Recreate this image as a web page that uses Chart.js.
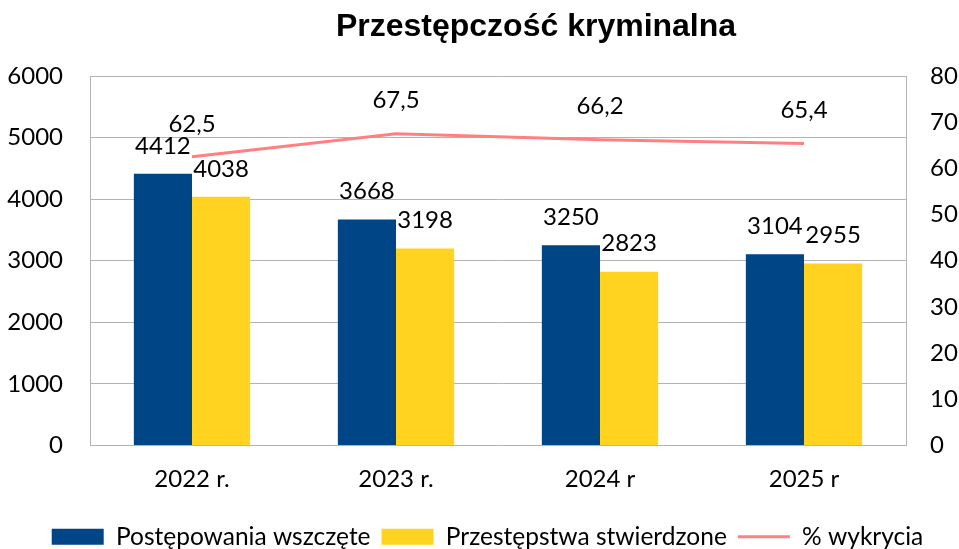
<!DOCTYPE html>
<html lang="pl">
<head>
<meta charset="utf-8">
<title>Przestępczość kryminalna</title>
<script src="https://cdn.jsdelivr.net/npm/chart.js@4.4.1/dist/chart.umd.min.js"></script>
<style>
  html, body { margin: 0; padding: 0; background: #fff; }
  #wrap { width: 959px; height: 549px; }
</style>
</head>
<body>
<div id="wrap"><canvas id="chart" width="959" height="549"></canvas></div>
<script>
/* Przestępczość kryminalna – bars + % line */
const years = ['2022 r.', '2023 r.', '2024 r', '2025 r'];
const postepowania = [4412, 3668, 3250, 3104];
const przestepstwa = [4038, 3198, 2823, 2955];
const wykrycie = [62.5, 67.5, 66.2, 65.4];
const chartTitle = 'Przestępczość kryminalna';

const FONT = 'Lato, "Open Sans", sans-serif';
const GRID = '#b3b3b3';

// title sits right of centre in the original, so it is drawn here
const titleText = {
  id: 'titleText',
  afterDraw(chart) {
    const ctx = chart.ctx;
    ctx.save();
    ctx.font = 'bold 32px "Liberation Sans", Arial, sans-serif';
    ctx.fillStyle = '#000';
    ctx.textAlign = 'center';
    ctx.textBaseline = 'middle';
    ctx.fillText(chartTitle, 536, 27);
    ctx.restore();
  }
};

// draws the numbers over bars and line points
const valueLabels = {
  id: 'valueLabels',
  afterDatasetsDraw(chart) {
    const ctx = chart.ctx;
    ctx.save();
    ctx.font = '24px ' + FONT;
    ctx.fillStyle = '#000';
    ctx.textAlign = 'center';
    ctx.textBaseline = 'middle';
    chart.data.datasets.forEach((ds, i) => {
      const meta = chart.getDatasetMeta(i);
      const lift = ds.type === 'line' ? 33 : 28;
      meta.data.forEach((el, j) => {
        const txt = String(ds.data[j]).replace('.', ',');
        ctx.fillText(txt, el.x, el.y - lift);
      });
    });
    ctx.restore();
  }
};

new Chart(document.getElementById('chart'), {
  type: 'bar',
  data: {
    labels: years,
    datasets: [
      { label: 'Postępowania wszczęte', data: postepowania, backgroundColor: '#004586',
        borderWidth: 0, pointStyle: 'rect', yAxisID: 'y' },
      { label: 'Przestępstwa stwierdzone', data: przestepstwa, backgroundColor: '#ffd320',
        borderWidth: 0, pointStyle: 'rect', yAxisID: 'y' },
      { type: 'line', label: '% wykrycia', data: wykrycie, borderColor: '#ff8080',
        backgroundColor: '#ff8080', borderWidth: 3, pointRadius: 0, pointBorderWidth: 3,
        pointStyle: 'line', tension: 0, yAxisID: 'y1' },
    ],
  },
  options: {
    responsive: false,
    animation: false,
    events: [],
    layout: { padding: { left: 0, right: -16, top: 76, bottom: -10 } },
    datasets: { bar: { categoryPercentage: 0.57, barPercentage: 1 } },
    plugins: {
      title: { display: false },
      legend: {
        position: 'bottom',
        labels: {
          color: '#000', font: { family: FONT, size: 24.5 },
          usePointStyle: true, pointStyleWidth: 52, boxHeight: 16, padding: 11,
          sort: (a, b) => a.datasetIndex - b.datasetIndex,
        },
      },
      tooltip: { enabled: false },
    },
    scales: {
      x: {
        grid: { display: false, drawTicks: false },
        border: { display: true, color: GRID, width: 1 },
        ticks: { color: '#000', font: { family: FONT, size: 24 }, padding: 19 },
        afterFit: (s) => { s.height = 68; },
      },
      y: {
        position: 'left', min: 0, max: 6000,
        ticks: { stepSize: 1000, color: '#000', font: { family: FONT, size: 24 }, padding: 27,
          callback: (v) => String(v) },
        grid: { color: GRID, lineWidth: 1, drawTicks: false },
        border: { display: true, color: GRID, width: 1 },
        afterFit: (s) => { s.width = 90; },
      },
      y1: {
        position: 'right', min: 0, max: 80,
        ticks: { stepSize: 10, color: '#000', font: { family: FONT, size: 24 }, padding: 24,
          callback: (v) => String(v) },
        grid: { display: false, drawTicks: false },
        border: { display: true, color: GRID, width: 1 },
        afterFit: (s) => { s.width = 69; },
      },
    },
  },
  plugins: [valueLabels, titleText],
});
</script>
</body>
</html>
